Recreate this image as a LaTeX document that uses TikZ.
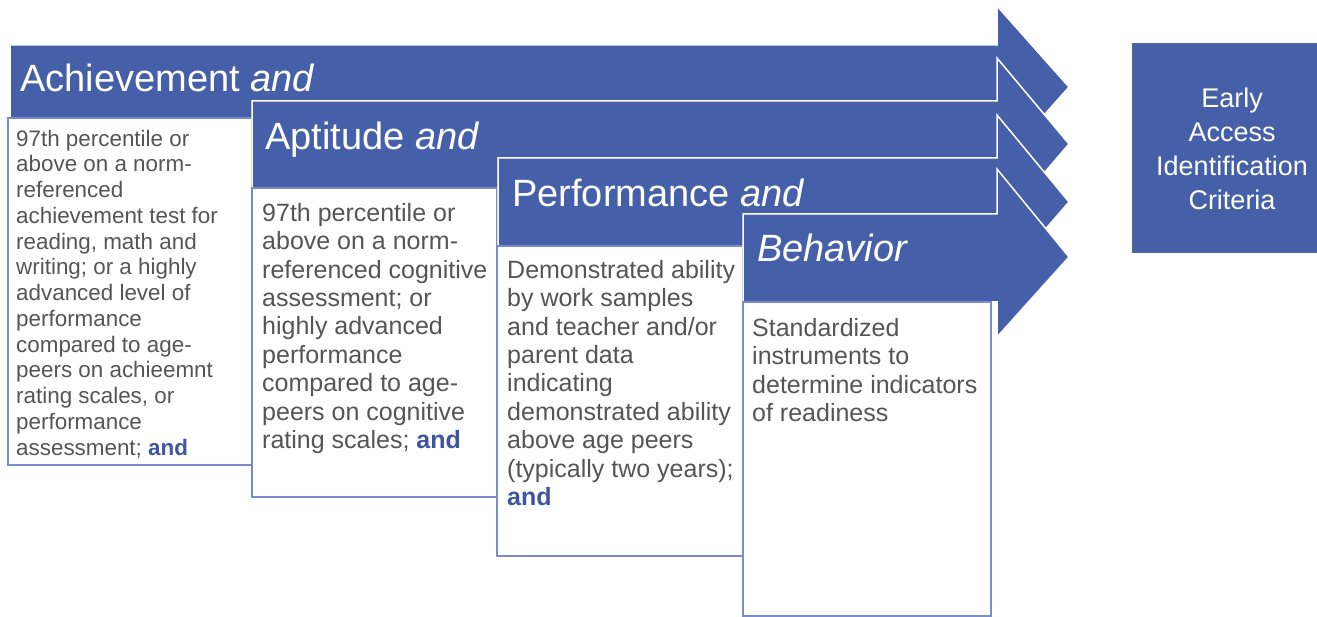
\documentclass[tikz,border=0pt]{standalone}
\usepackage{fontspec}
\setmainfont{Liberation Sans}
\definecolor{arrowblue}{HTML}{4560A9}
\definecolor{boxline}{HTML}{7B8CCB}
\definecolor{bodygray}{HTML}{555555}
\definecolor{andblue}{HTML}{3F55A0}
\definecolor{earlyline}{HTML}{5A6A90}
\begin{document}
\begin{tikzpicture}[x=1pt,y=-1pt,
  arrowshape/.style={fill=arrowblue,draw=white,line width=1.5pt,line join=miter},
  textbox/.style={fill=white,draw=boxline,line width=2pt},
  title/.style={anchor=base west,inner sep=0pt,text=white,font=\fontsize{38}{44}\selectfont},
  body/.style={anchor=north west,inner sep=0pt,align=left,text=bodygray,font=\fontsize{22.4}{25.75}\selectfont},
  bodylarge/.style={body,font=\fontsize{25}{28.4}\selectfont},
]
\useasboundingbox (0,0) rectangle (1317,617);
\newcommand{\andtxt}{\textbf{\textcolor{andblue}{and}}}
\newcommand{\firststrut}{\rule{0pt}{18pt}}
\newcommand{\largestrut}{\rule{0pt}{20pt}}
% Arrow 1
\draw[arrowshape] (10,45) -- (997,45) -- (997,6) -- (1069,87) -- (997,168) -- (997,129) -- (10,129) -- cycle;
\draw[textbox] (8,118) rectangle (252,465);
\node[title] (t1) at (20,92) {Achievement \textit{and}};
\node[body] (b1) at (16,128) {\firststrut 97th percentile or\\above on a norm-\\referenced\\achievement test for\\reading, math and\\writing; or a highly\\advanced level of\\performance\\compared to age-\\peers on achieemnt\\rating scales, or\\performance\\assessment; \andtxt};
% Arrow 2
\draw[arrowshape] (252,101) -- (997,101) -- (997,58) -- (1069,144) -- (997,228) -- (997,188) -- (252,188) -- cycle;
\draw[textbox] (252,188) rectangle (497,497);
\node[title] (t2) at (265,150) {Aptitude \textit{and}};
\node[bodylarge] (b2) at (262,201) {\largestrut 97th percentile or\\above on a norm-\\referenced cognitive\\assessment; or\\highly advanced\\performance\\compared to age-\\peers on cognitive\\rating scales; \andtxt};
% Arrow 3
\draw[arrowshape] (498,158) -- (997,158) -- (997,115) -- (1069,202) -- (997,285) -- (997,246) -- (498,246) -- cycle;
\draw[textbox] (497,246) rectangle (743,556);
\node[title] (t3) at (512,207) {Performance \textit{and}};
\node[bodylarge] (b3) at (507,258) {\largestrut Demonstrated ability\\by work samples\\and teacher and/or\\parent data\\indicating\\demonstrated ability\\above age peers\\(typically two years);\\\andtxt};
% Arrow 4
\draw[arrowshape] (743,214) -- (997,214) -- (997,169) -- (1069,257) -- (997,337) -- (997,302) -- (743,302) -- cycle;
\draw[textbox] (743,302) rectangle (991,616);
\node[title] (t4) at (757,262) {\textit{Behavior}};
\node[bodylarge] (b4) at (752,316) {\largestrut Standardized\\instruments to\\determine indicators\\of readiness};
% Result box
\draw[fill=arrowblue,draw=earlyline,line width=1pt] (1132,44) rectangle (1320,253);
\node[align=center,text=white,inner sep=0pt,font=\fontsize{27}{34}\selectfont] (early) at (1232,149) {Early\\Access\\Identification\\Criteria};
\end{tikzpicture}
\end{document}
